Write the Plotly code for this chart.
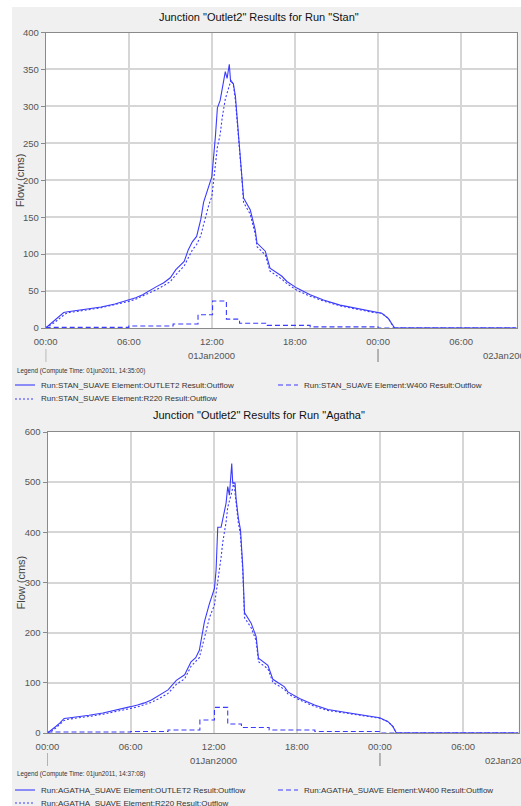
import pandas as pd
import plotly.graph_objects as go

# ---------------- data (hours after 01Jan2000 00:00, flow in cms) ----------------
stan_outlet2_h = [0, 0.25, 0.5, 0.75, 1.0, 1.3, 1.6, 2, 3, 4, 5, 6, 6.5, 7, 7.5, 8, 8.5, 9, 9.4, 10,
                  10.3, 10.6, 10.9, 11.2, 11.4, 11.8, 12.0, 12.25, 12.4, 12.6, 12.75, 12.97, 13.1, 13.26,
                  13.35, 13.55, 13.7, 13.82, 13.93, 14.18, 14.29, 14.77, 15.13, 15.26, 15.86, 16.2, 17.06,
                  17.42, 18.14, 19.1, 20.06, 21.26, 22.46, 23.66, 24.27, 24.74, 25.1, 25.2, 34]
stan_outlet2_q = [0, 4, 8, 12, 16, 21, 22, 23, 25.5, 28.5, 32.5, 38, 41, 45, 51, 56, 61, 68, 79, 90,
                  106, 117, 124, 147, 170, 192, 205, 258, 298, 308, 323, 347, 338, 357,
                  334, 331, 314, 286, 271, 207, 176, 160, 133, 115, 104, 81, 70,
                  63, 54, 45, 38, 31, 26.5, 22, 20, 13, 2, 0, 0]

stan_r220_h = [0, 0.3, 0.6, 1.0, 1.4, 1.7, 2, 3, 4, 5, 6, 6.5, 7, 7.5, 8, 8.5, 9, 9.4, 10, 10.3, 10.6,
               10.9, 11.2, 11.4, 11.8, 12.0, 12.25, 12.4, 12.6, 12.75, 12.97, 13.1, 13.26, 13.4, 13.55,
               13.7, 13.82, 13.93, 14.18, 14.29, 14.77, 15.13, 15.26, 15.86, 16.2, 17.06, 17.42, 18.14,
               19.1, 20.06, 21.26, 22.46, 23.66, 24.27, 24.74, 25.1, 25.2, 34]
stan_r220_q = [0, 3, 7, 13, 19, 21, 22, 24.5, 27.5, 31.5, 36, 39, 43, 48, 52, 57, 63, 72, 84, 95, 106,
               113, 125, 140, 168, 178, 215, 245, 262, 285, 310, 320, 328, 336, 329,
               308, 282, 265, 200, 170, 154, 127, 110, 99, 77, 66, 60, 51,
               43, 36.5, 30, 25.5, 21, 20, 13, 2, 0, 0]

stan_w400_h = [0, 6, 9.2, 11, 12.05, 13.05, 14, 16, 19.1, 24, 34]
stan_w400_q = [0.8, 2.7, 5.5, 18, 36.5, 12, 6.5, 3.5, 1.5, 0, 0]

agatha_outlet2_h = [0, 0.3, 0.6, 0.9, 1.2, 1.5, 2, 3, 4, 5, 6, 6.5, 7, 7.5, 8, 8.7, 9.3, 9.9, 10.36,
                    10.7, 10.96, 11.33, 11.69, 12.05, 12.17, 12.29, 12.53, 12.65, 12.89, 13.01, 13.13,
                    13.3, 13.37, 13.54, 13.61, 13.78, 13.93, 14.1, 14.22, 14.7, 15.06, 15.23, 15.91,
                    16.27, 17.11, 17.35, 18.19, 19.28, 20.24, 21.69, 22.89, 23.98, 24.58, 24.94, 25.18, 34]
agatha_outlet2_q = [0, 6, 13, 20, 29, 30, 31.5, 35.5, 40, 45.5, 52.5, 56, 60, 66, 74, 86, 105, 116, 142,
                    150, 165, 222, 258, 288, 325, 410, 410, 428, 458, 491, 474,
                    537, 498, 498, 468, 428, 405, 330, 240, 219, 192, 149, 135,
                    107, 92, 82, 69, 56, 47, 40.5, 36, 30.5, 22.6, 12.6, 0, 0]

agatha_r220_h = [0, 0.3, 0.6, 0.9, 1.2, 1.5, 2, 3, 4, 5, 6, 6.5, 7, 7.5, 8, 8.7, 9.3, 9.9, 10.36, 10.7,
                 10.96, 11.33, 11.69, 12.05, 12.29, 12.53, 12.65, 12.89, 13.01, 13.13, 13.3, 13.45,
                 13.61, 13.78, 13.93, 14.1, 14.22, 14.7, 15.06, 15.23, 15.91, 16.27, 17.11, 17.35,
                 18.19, 19.28, 20.24, 21.69, 22.89, 23.98, 24.58, 24.94, 25.18, 34]
agatha_r220_q = [0, 4, 10, 17, 25, 27.5, 29, 33, 37.5, 42.5, 49, 52, 56, 61, 68, 79, 97, 108, 133, 142,
                 150, 190, 230, 255, 300, 350, 380, 420, 450, 462, 480, 500,
                 455, 418, 395, 320, 230, 210, 184, 142, 128, 101, 87, 78,
                 66, 53, 45, 38.5, 34, 29.5, 22.6, 12.6, 0, 0]

agatha_w400_h = [0, 6, 8.7, 11, 12.05, 13.01, 14, 16, 19.3, 24, 34]
agatha_w400_q = [2, 3, 6, 26, 51, 18, 11, 6, 3, 0, 0]

x_range_hours = [0, 34]
stan_y_range = [0, 400]
agatha_y_range = [0, 600]

titles = ['Junction "Outlet2" Results for Run "Stan"',
          'Junction "Outlet2" Results for Run "Agatha"']
legend_headers = ["Legend (Compute Time: 01jun2011, 14:35:00)",
                  "Legend (Compute Time: 01jun2011, 14:37:08)"]
stan_names = ["Run:STAN_SUAVE Element:OUTLET2 Result:Outflow",
              "Run:STAN_SUAVE Element:W400 Result:Outflow",
              "Run:STAN_SUAVE Element:R220 Result:Outflow"]
agatha_names = ["Run:AGATHA_SUAVE Element:OUTLET2 Result:Outflow",
                "Run:AGATHA_SUAVE Element:W400 Result:Outflow",
                "Run:AGATHA_SUAVE Element:R220 Result:Outflow"]
day_labels = ["01Jan2000", "02Jan2000"]

# ---------------- helpers ----------------
W, H = 521, 806
BASE = pd.Timestamp("2000-01-01 00:00")


def t(hours):
    return [BASE + pd.Timedelta(hours=h) for h in hours]


def px(x):
    return x / W


def py(y):
    return 1 - y / H


BLUE = "#3b3bff"
FONT = "Liberation Sans, Arial, sans-serif"

fig = go.Figure()

series = [
    ("x", "y", stan_outlet2_h, stan_outlet2_q, "solid", "linear", stan_names[0]),
    ("x", "y", stan_w400_h, stan_w400_q, "5px,3px", "hv", stan_names[1]),
    ("x", "y", stan_r220_h, stan_r220_q, "2px,2px", "linear", stan_names[2]),
    ("x2", "y2", agatha_outlet2_h, agatha_outlet2_q, "solid", "linear", agatha_names[0]),
    ("x2", "y2", agatha_w400_h, agatha_w400_q, "5px,3px", "hv", agatha_names[1]),
    ("x2", "y2", agatha_r220_h, agatha_r220_q, "2px,2px", "linear", agatha_names[2]),
]
for xa, ya, hh, qq, dash, shape, name in series:
    fig.add_trace(go.Scatter(x=t(hh), y=qq, xaxis=xa, yaxis=ya, mode="lines", name=name,
                             line=dict(color=BLUE, width=1.1, dash=dash, shape=shape),
                             showlegend=False, hoverinfo="skip"))

# axes geometry (pixels)
top_box = dict(l=45.7, r=516.5, t=32.5, b=328)
bot_box = dict(l=47.5, r=518.5, t=432, b=733)

common_x = dict(type="date", range=t(x_range_hours), tickformat="%H:%M", dtick=6 * 3600000,
                tick0=BASE, showgrid=True, gridcolor="#d6d6d6", gridwidth=1.5,
                showline=True, linecolor="#8a8a8a", linewidth=1, mirror=True,
                ticks="", tickfont=dict(family=FONT, size=9.5, color="#555555"),
                ticklabelstandoff=5, zeroline=False, fixedrange=True, automargin=False)
common_y = dict(showgrid=True, gridcolor="#d6d6d6", gridwidth=1.5, showline=True,
                linecolor="#8a8a8a", linewidth=1, mirror=True, ticks="outside", ticklen=4,
                tickcolor="#8a8a8a", tickfont=dict(family=FONT, size=9.5, color="#555555"),
                zeroline=False, fixedrange=True, automargin=False)

fig.update_layout(
    xaxis=dict(common_x, domain=[px(top_box["l"]), px(top_box["r"])], anchor="y"),
    yaxis=dict(common_y, domain=[py(top_box["b"]), py(top_box["t"])], range=stan_y_range,
               dtick=50, anchor="x"),
    xaxis2=dict(common_x, domain=[px(bot_box["l"]), px(bot_box["r"])], anchor="y2"),
    yaxis2=dict(common_y, domain=[py(bot_box["b"]), py(bot_box["t"])], range=agatha_y_range,
                dtick=100, anchor="x2"),
)

shapes = [
    # white strips at the left and top edges (rest of page is light grey)
    dict(type="rect", xref="paper", yref="paper", x0=0, x1=px(12), y0=0, y1=1,
         fillcolor="white", line=dict(width=0), layer="below"),
    dict(type="rect", xref="paper", yref="paper", x0=0, x1=1, y0=py(7), y1=1,
         fillcolor="white", line=dict(width=0), layer="below"),
]
annotations = []

panels = [
    ("x", top_box, 0, stan_names, 17, 342, 356, 371, 385, 399),
    ("x2", bot_box, 1, agatha_names, 415, 745, 760, 774, 790, 803),
]
for xa, box, i, names, ty, tly, dly, lhy, r1, r2 in panels:
    annotations.append(dict(text=titles[i], xref="paper", yref="paper", x=px(259), y=py(ty),
                            showarrow=False, xanchor="center", yanchor="middle",
                            font=dict(family=FONT, size=11, color="#111111")))
    annotations.append(dict(text="Flow (cms)", xref="paper", yref="paper", x=px(20),
                            y=py((box["t"] + box["b"]) / 2), textangle=-90, showarrow=False,
                            xanchor="center", yanchor="middle",
                            font=dict(family=FONT, size=11, color="#444444")))
    # day separators and day labels
    for d in (0, 24):
        shapes.append(dict(type="line", xref=xa, yref="paper", x0=BASE + pd.Timedelta(hours=d),
                           x1=BASE + pd.Timedelta(hours=d), y0=py(dly - 7), y1=py(dly + 6),
                           line=dict(color="#777777", width=1)))
    day_w = box["r"] - box["l"]
    annotations.append(dict(text=day_labels[0], xref="paper", yref="paper",
                            x=px(box["l"] + day_w * 12 / 34), y=py(dly), showarrow=False,
                            xanchor="center", yanchor="middle",
                            font=dict(family=FONT, size=9.5, color="#555555")))
    annotations.append(dict(text=day_labels[1], xref="paper", yref="paper",
                            x=px(box["l"] + day_w * 31.45 / 34), y=py(dly), showarrow=False,
                            xanchor="left", yanchor="middle",
                            font=dict(family=FONT, size=9.5, color="#555555")))
    # legend
    annotations.append(dict(text=legend_headers[i], xref="paper", yref="paper", x=px(15),
                            y=py(lhy), showarrow=False, xanchor="left", yanchor="middle",
                            font=dict(family=FONT, size=6.3, color="#333333")))
    legend_rows = [(15, 35, 39, r1, "solid", names[0]),
                   (278, 298, 302, r1, "5px,3px", names[1]),
                   (15, 35, 39, r2, "2px,2px", names[2])]
    for x0, x1, tx, ry, dash, name in legend_rows:
        shapes.append(dict(type="line", xref="paper", yref="paper", x0=px(x0), x1=px(x1),
                           y0=py(ry), y1=py(ry), line=dict(color=BLUE, width=1.1, dash=dash)))
        annotations.append(dict(text=name, xref="paper", yref="paper", x=px(tx), y=py(ry),
                                showarrow=False, xanchor="left", yanchor="middle",
                                font=dict(family=FONT, size=8, color="#333333")))

fig.update_layout(
    width=W, height=H, margin=dict(l=0, r=0, t=0, b=0, pad=0), autosize=False,
    paper_bgcolor="#f0f0f0", plot_bgcolor="white",
    shapes=shapes, annotations=annotations, showlegend=False,
    font=dict(family=FONT),
)

fig.write_html("out.html", config={"displayModeBar": False},
               post_script="document.body.style.margin='0';document.body.style.overflow='hidden';")
